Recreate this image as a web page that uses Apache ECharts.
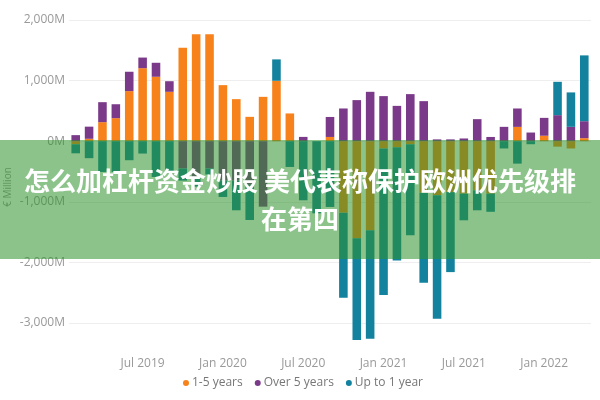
<!DOCTYPE html>
<html>
<head>
<meta charset="utf-8">
<script src="https://cdn.jsdelivr.net/npm/echarts@6/dist/echarts.min.js"></script>
<style>
html, body { margin: 0; padding: 0; background: #fff; }
#chart { width: 600px; height: 400px; }
</style>
</head>
<body>
<div id="chart"></div>
<script>
// months shown on the x axis (one bar each)
var months = ['Feb 2019','Mar 2019','Apr 2019','May 2019','Jun 2019','Jul 2019','Aug 2019','Sep 2019','Oct 2019','Nov 2019','Dec 2019',
  'Jan 2020','Feb 2020','Mar 2020','Apr 2020','May 2020','Jun 2020','Jul 2020','Aug 2020','Sep 2020','Oct 2020','Nov 2020','Dec 2020',
  'Jan 2021','Feb 2021','Mar 2021','Apr 2021','May 2021','Jun 2021','Jul 2021','Aug 2021','Sep 2021','Oct 2021','Nov 2021','Dec 2021',
  'Jan 2022','Feb 2022','Mar 2022','Apr 2022'];
var xTickLabels = ['Jul 2019','Jan 2020','Jul 2020','Jan 2021','Jul 2021','Jan 2022'];
var seriesNames = ['1-5 years','Over 5 years','Up to 1 year'];

// values in EUR million
var oneToFive = [-50, 40, 314, 380, 826, 1205, 1063, 815, 1542, 1765, 1765,
  925, 694, 402, 732, 997, 458, 0, 0, 70, -1180, -1600, -1470,
  -120, -100, -50, -850, -890, -840, -865, -810, -865, 0, 236, 0,
  90, -90, -120, 50];
var overFive = [100, 200, 330, 230, 320, 175, 231, 175, -450, -600, -450,
  -650, -650, -720, -1080, 0, 0, 71, 0, 330, 540, 678, 815,
  744, 583, 777, 661, 30, 30, 45, 364, 70, 237, 304, 143,
  295, 430, 237, 280];
var upToOne = [-150, -280, -507, -507, -314, -204, -590, -507, -200, -150, -100,
  -270, -490, -580, 0, 353, -425, -975, -1190, -1085, -1405, -1680, -1790,
  -2420, -1870, -1500, -1485, -2040, -1320, -440, -330, -300, -120, -370, -50,
  0, 550, 568, 1086];

var colors = ['#F7821B', '#7B3A89', '#12829E'];
var labelFont = '"Open Sans", sans-serif';

var chart = echarts.init(document.getElementById('chart'));

function barSeries(name, data, i) {
  return {
    name: name,
    type: 'bar',
    stack: 'total',
    data: data,
    clip: false,
    barCategoryGap: '36%',
    itemStyle: { color: colors[i] }
  };
}

var option = {
  animation: false,
  grid: { left: 69, right: 9, top: 20, bottom: 77 },
  legend: {
    bottom: 6,
    left: 178,
    icon: 'circle',
    itemWidth: 6,
    itemHeight: 6,
    itemGap: 12,
    textStyle: { color: '#777', fontSize: 12, fontFamily: labelFont, padding: [0, 0, 0, -2] },
    data: seriesNames
  },
  xAxis: {
    type: 'category',
    data: months,
    axisLine: { show: false, onZero: false },
    axisTick: { show: false },
    axisLabel: {
      margin: 35,
      color: '#999',
      fontSize: 12,
      fontFamily: labelFont,
      interval: function (idx, value) { return xTickLabels.indexOf(value) >= 0; }
    }
  },
  yAxis: {
    type: 'value',
    min: -3000,
    max: 2000,
    interval: 1000,
    axisLine: { show: false },
    axisTick: { show: false },
    splitLine: { lineStyle: { color: '#eeeeee' } },
    axisLabel: {
      margin: 4,
      color: '#999',
      fontSize: 12,
      fontFamily: labelFont,
      formatter: function (v) { return v.toLocaleString('en-US') + 'M'; }
    }
  },
  graphic: [
    {
      type: 'text', x: 8, y: 187, rotation: Math.PI / 2, z: 50,
      style: { text: '€ Million', fill: '#999', font: '10px "Open Sans"',
        align: 'center', verticalAlign: 'middle' }
    },
    {
      type: 'rect', left: 0, top: 140, z: 100,
      shape: { width: 600, height: 119 },
      style: { fill: 'rgba(46,146,42,0.55)' }
    },
    {
      type: 'text', x: 300, y: 181, z: 101,
      style: { text: '怎么加杠杆资金炒股 美代表称保护欧洲优先级排', fill: '#fff',
        font: 'bold 26px "Noto Sans CJK SC"', align: 'center', verticalAlign: 'middle' }
    },
    {
      type: 'text', x: 300, y: 219, z: 101,
      style: { text: '在第四', fill: '#fff',
        font: 'bold 26px "Noto Sans CJK SC"', align: 'center', verticalAlign: 'middle' }
    }
  ],
  series: [
    barSeries(seriesNames[0], oneToFive, 0),
    barSeries(seriesNames[1], overFive, 1),
    barSeries(seriesNames[2], upToOne, 2)
  ]
};

chart.setOption(option);
</script>
</body>
</html>
